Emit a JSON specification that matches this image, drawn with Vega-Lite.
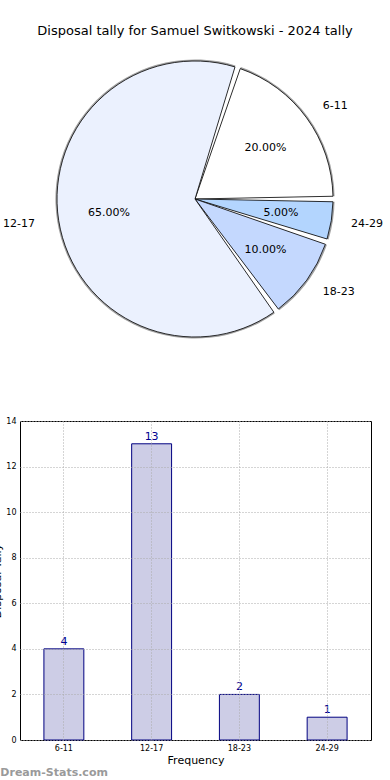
{
  "$schema": "https://vega.github.io/schema/vega-lite/v6.json",
  "padding": {"left": -9, "top": 25, "right": 6, "bottom": 2},
  "background": "white",
  "config": {"font": "DejaVu Sans", "view": {"stroke": "black", "strokeWidth": 1}},
  "title": {"text": "Dream-Stats.com", "orient": "bottom", "anchor": "start", "dx": 9, "fontSize": 11, "fontWeight": "bold", "color": "#9a9a9a", "offset": 1, "font": "DejaVu Sans"},
  "data": {"values": [
    {"range": "6-11", "count": 4, "pct": "20.00%", "ord": 1},
    {"range": "24-29", "count": 1, "pct": "5.00%", "ord": 2},
    {"range": "18-23", "count": 2, "pct": "10.00%", "ord": 3},
    {"range": "12-17", "count": 13, "pct": "65.00%", "ord": 4}
  ]},
  "spacing": 67,
  "vconcat": [
    {
      "width": 350,
      "height": 300,
      "view": {"stroke": null},
      "title": {"text": "Disposal tally for Samuel Switkowski - 2024 tally", "fontSize": 13, "fontWeight": "normal", "offset": 11, "anchor": "middle", "color": "black", "font": "DejaVu Sans"},
      "encoding": {
        "theta": {"field": "count", "type": "quantitative", "stack": true, "scale": {"range": [0.31416, 6.59734]}},
        "order": {"field": "ord", "type": "quantitative"}
      },
      "layer": [
        {
          "mark": {"type": "arc", "radius": 139.6, "padAngle": 0.04, "fill": "#a0a0a0"},
          "encoding": {"detail": {"field": "range", "type": "nominal"}}
        },
        {
          "mark": {"type": "arc", "radius": 138, "padAngle": 0.04, "stroke": "black", "strokeWidth": 0.8},
          "encoding": {"color": {"field": "range", "type": "nominal", "scale": {"domain": ["6-11", "12-17", "18-23", "24-29"], "range": ["#ffffff", "#ebf1fe", "#c4d8fe", "#b3d5fe"]}, "legend": null}}
        },
        {
          "mark": {"type": "text", "radius": 87, "fontSize": 11, "color": "black"},
          "encoding": {"text": {"field": "pct", "type": "nominal"}}
        },
        {
          "mark": {"type": "text", "radius": 158, "align": "left", "baseline": "middle", "fontSize": 11, "color": "black"},
          "encoding": {"text": {"condition": {"test": "datum.range !== '12-17'", "field": "range", "type": "nominal"}, "value": ""}}
        },
        {
          "mark": {"type": "text", "radius": 162, "align": "right", "baseline": "middle", "fontSize": 11, "color": "black"},
          "encoding": {"text": {"condition": {"test": "datum.range === '12-17'", "field": "range", "type": "nominal"}, "value": ""}}
        }
      ]
    },
    {
      "width": 351,
      "height": 319,
      "encoding": {
        "x": {"field": "range", "type": "nominal", "sort": ["6-11", "12-17", "18-23", "24-29"],
          "scale": {"paddingInner": 0.545, "paddingOuter": 0.2725},
          "axis": {"title": "Frequency", "labelAngle": 0, "labelFontSize": 8, "titleFontSize": 11, "titleFontWeight": "normal", "ticks": false, "labelPadding": 4, "titlePadding": 2, "grid": true, "gridDash": [1, 2], "gridColor": "#aaaaaa", "bandPosition": 0.5, "domain": false, "labelColor": "black", "titleColor": "black", "zindex": 1}},
        "y": {"field": "count", "type": "quantitative", "scale": {"domain": [0, 14]},
          "axis": {"title": "Disposal Tally", "values": [0, 2, 4, 6, 8, 10, 12, 14], "labelFontSize": 8, "ticks": false, "labelPadding": 4, "grid": true, "gridDash": [1, 2], "gridColor": "#aaaaaa", "domain": false, "titleFontSize": 11, "titleFontWeight": "normal", "titlePadding": 3, "labelColor": "black", "titleColor": "black", "zindex": 1}}
      },
      "layer": [
        {"mark": {"type": "bar", "fill": "#cdcde6", "stroke": "#000080", "strokeWidth": 1}},
        {"mark": {"type": "text", "baseline": "bottom", "dy": -2, "fontSize": 11, "color": "#000090"}, "encoding": {"text": {"field": "count", "type": "quantitative"}}}
      ]
    }
  ]
}
